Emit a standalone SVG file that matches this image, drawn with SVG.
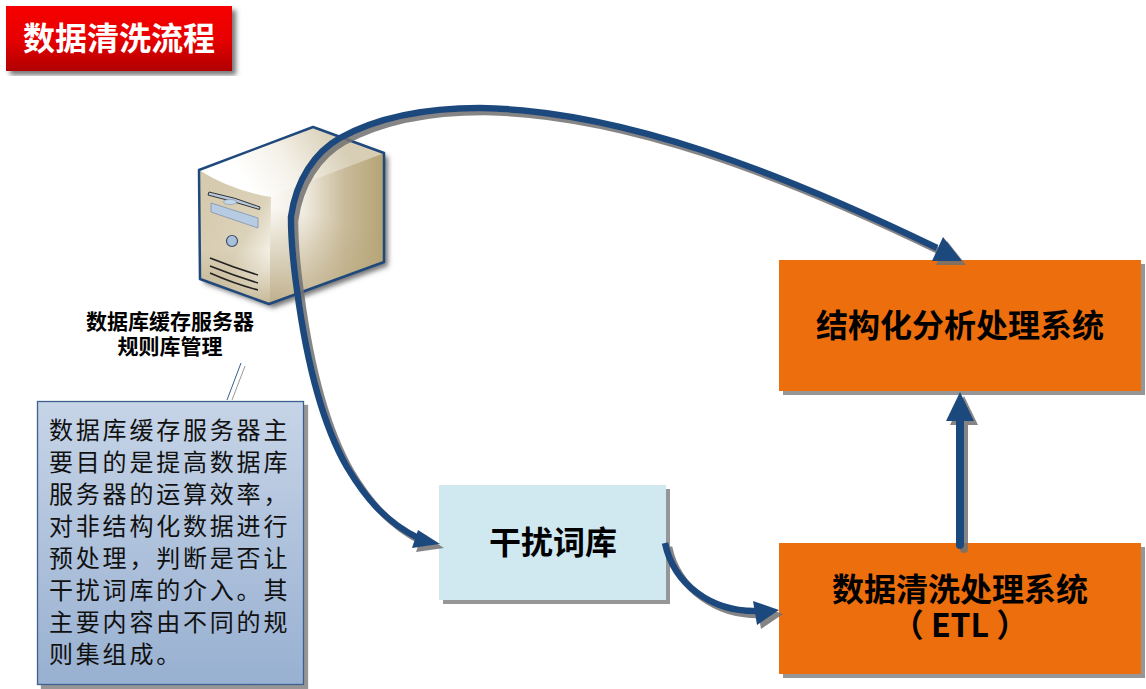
<svg xmlns="http://www.w3.org/2000/svg" width="1146" height="689" viewBox="0 0 1146 689">
<style>
text{font-family:"Noto Sans CJK SC","Liberation Sans",sans-serif;text-anchor:middle;fill:#000}
.b{font-weight:700}
.big{font-size:32px;font-weight:700}
.lbl{font-size:21px;font-weight:700}
.body{font-size:24px;text-anchor:start;letter-spacing:2.8px;fill:#111}
.org{fill:#ec6e0a}
.line{fill:none;stroke:#1f497d;stroke-width:6.500;stroke-linejoin:round}
.head{fill:#1f497d}
.vent{fill:none;stroke:#222;stroke-width:1.600}
</style>
<defs>
<filter id="sh" x="-5%" y="-5%" width="112%" height="112%"><feDropShadow dx="4" dy="4" stdDeviation="0.6" flood-color="#8a8a8a" flood-opacity="0.9"/></filter>
<filter id="shc" filterUnits="userSpaceOnUse" x="250" y="80" width="800" height="600"><feDropShadow dx="4" dy="4" stdDeviation="0.7" flood-color="#6f6f6f" flood-opacity="0.85"/></filter>
<filter id="shs" x="-5%" y="-5%" width="112%" height="112%"><feDropShadow dx="4" dy="4" stdDeviation="2.500" flood-color="#555" flood-opacity="0.8"/></filter>
<linearGradient id="red" x1="0" y1="0" x2="0" y2="1"><stop offset="0" stop-color="#f60000"/><stop offset="0.5" stop-color="#e80000"/><stop offset="1" stop-color="#b00000"/></linearGradient>
<linearGradient id="blue" x1="0" y1="0" x2="0" y2="1"><stop offset="0" stop-color="#c6d4e7"/><stop offset="1" stop-color="#98b0d1"/></linearGradient>
<linearGradient id="front" gradientUnits="userSpaceOnUse" x1="200" y1="215" x2="272" y2="255"><stop offset="0" stop-color="#d6cbae"/><stop offset="0.6" stop-color="#dcd2ba"/><stop offset="1" stop-color="#f6f3ea"/></linearGradient>
<linearGradient id="frontb" x1="0" y1="0" x2="0" y2="1"><stop offset="0" stop-color="#b7a67e" stop-opacity="0"/><stop offset="0.6" stop-color="#b7a67e" stop-opacity="0"/><stop offset="1" stop-color="#b7a67e" stop-opacity="0.75"/></linearGradient>
<linearGradient id="side" gradientUnits="userSpaceOnUse" x1="270" y1="230" x2="384" y2="230"><stop offset="0" stop-color="#fbfaf6"/><stop offset="0.3" stop-color="#f0ebe0"/><stop offset="0.65" stop-color="#cabc9b"/><stop offset="1" stop-color="#b5a374"/></linearGradient>
<linearGradient id="sideb" gradientUnits="userSpaceOnUse" x1="290" y1="210" x2="270" y2="304"><stop offset="0" stop-color="#b8a77e" stop-opacity="0"/><stop offset="1" stop-color="#b8a77e" stop-opacity="0.9"/></linearGradient>
<linearGradient id="top" gradientUnits="userSpaceOnUse" x1="250" y1="190" x2="335" y2="135"><stop offset="0" stop-color="#ffffff"/><stop offset="0.45" stop-color="#f4f1e8"/><stop offset="1" stop-color="#d8ceb6"/></linearGradient>
</defs>

<g id="title"><rect x="6" y="6" width="226" height="65" fill="url(#red)" filter="url(#shs)"/><text x="119" y="50" font-size="32" class="b" style="fill:#fff">数据清洗流程</text></g>

<g id="server">
<path d="M199,170 L313,127 L384,153 L384,262 L269,304 L200,279 Z" fill="#fff" filter="url(#shs)"/>
<polygon points="313,127 384,153 270,197 199,170" fill="url(#top)"/>
<polygon points="270,196 384,153 384,262 269,304" fill="url(#side)"/>
<polygon points="270,196 384,153 384,262 269,304" fill="url(#sideb)"/>
<path d="M199,170 Q230,190 271,197 L269,304 L200,279 Z" fill="url(#front)"/>
<path d="M199,170 Q230,190 271,197 L269,304 L200,279 Z" fill="url(#frontb)"/>
<path d="M199,170 L313,127 L384,153 L384,262 L269,304 L200,279 Z" fill="none" stroke="#1f497d" stroke-width="2.500" stroke-linejoin="round"/>
<path d="M209,192 Q235,197 260,207 L259.500,209.500 Q232,201 208,195 Z" fill="#b7c6da" stroke="#333" stroke-width="1"/>
<ellipse cx="230" cy="202" rx="6.500" ry="2.500" fill="#c4d6ea" stroke="#7b93b0" stroke-width="0.600"/>
<polygon points="211,203 258,218 258,228 211,212" fill="#b7cbe3" stroke="#8093ad" stroke-width="0.800"/>
<circle cx="232" cy="241" r="5.500" fill="#a9c0dd" stroke="#3c4e66" stroke-width="1.200"/>
<path class="vent" d="M210,258 Q235,268 258,275 M210,266 Q235,276 258,283 M210,273 Q235,284 258,290"/>
</g>

<g id="label-server"><text class="lbl"><tspan x="170" y="329">数据库缓存服务器</tspan><tspan x="170" y="354">规则库管理</tspan></text></g>

<g id="callout">
<path d="M241,363 L227,400" stroke="#3a5f8c" stroke-width="1" fill="none"/>
<path d="M245,366 L232,400" stroke="#999" stroke-width="1" fill="none"/>
<rect x="37.500" y="401.500" width="266" height="283" fill="url(#blue)" stroke="#3d6090" stroke-width="1.300" filter="url(#sh)"/>
<text class="body"><tspan x="49" y="439">数据库缓存服务器主</tspan><tspan x="49" y="471">要目的是提高数据库</tspan><tspan x="49" y="503">服务器的运算效率，</tspan><tspan x="49" y="535">对非结构化数据进行</tspan><tspan x="49" y="567">预处理，判断是否让</tspan><tspan x="49" y="599">干扰词库的介入。其</tspan><tspan x="49" y="631">主要内容由不同的规</tspan><tspan x="49" y="663">则集组成。</tspan></text>
</g>

<g id="node-gr"><rect x="439" y="485" width="227" height="115" fill="#d0e8f0" filter="url(#sh)"/><text class="big" x="553" y="554">干扰词库</text></g>
<g id="node-etl"><rect x="779" y="543" width="362" height="131" class="org" filter="url(#sh)"/><text class="big"><tspan x="960" y="601">数据清洗处理系统</tspan><tspan x="960" y="637">（ ETL ）</tspan></text></g>
<g id="node-str"><rect x="779" y="260" width="362" height="131" class="org" filter="url(#sh)"/><text class="big" x="960" y="337">结构化分析处理系统</text></g>

<g id="connectors" filter="url(#shc)">
<path class="line" d="M937,248 C780,172 620,110 480,108 C430,108 380,116 340,138 C315,152 296,180 291,217 C291,240 293,262 297,290 C305,350 320,420 347,467 C365,497 385,522 420,539"/>
<polygon class="head" points="962,261 932,261 943,237"/>
<polygon class="head" points="440,544 412,548 418,530"/>
<path class="line" d="M665,543 C674,585 712,612 757,611"/>
<polygon class="head" points="779,610 757,625 753,601"/>
<path class="line" style="stroke-width:8;stroke-linecap:round" d="M960,420 L960,545"/>
<polygon class="head" points="960,392 946,421 974,421"/>
</g>
</svg>
